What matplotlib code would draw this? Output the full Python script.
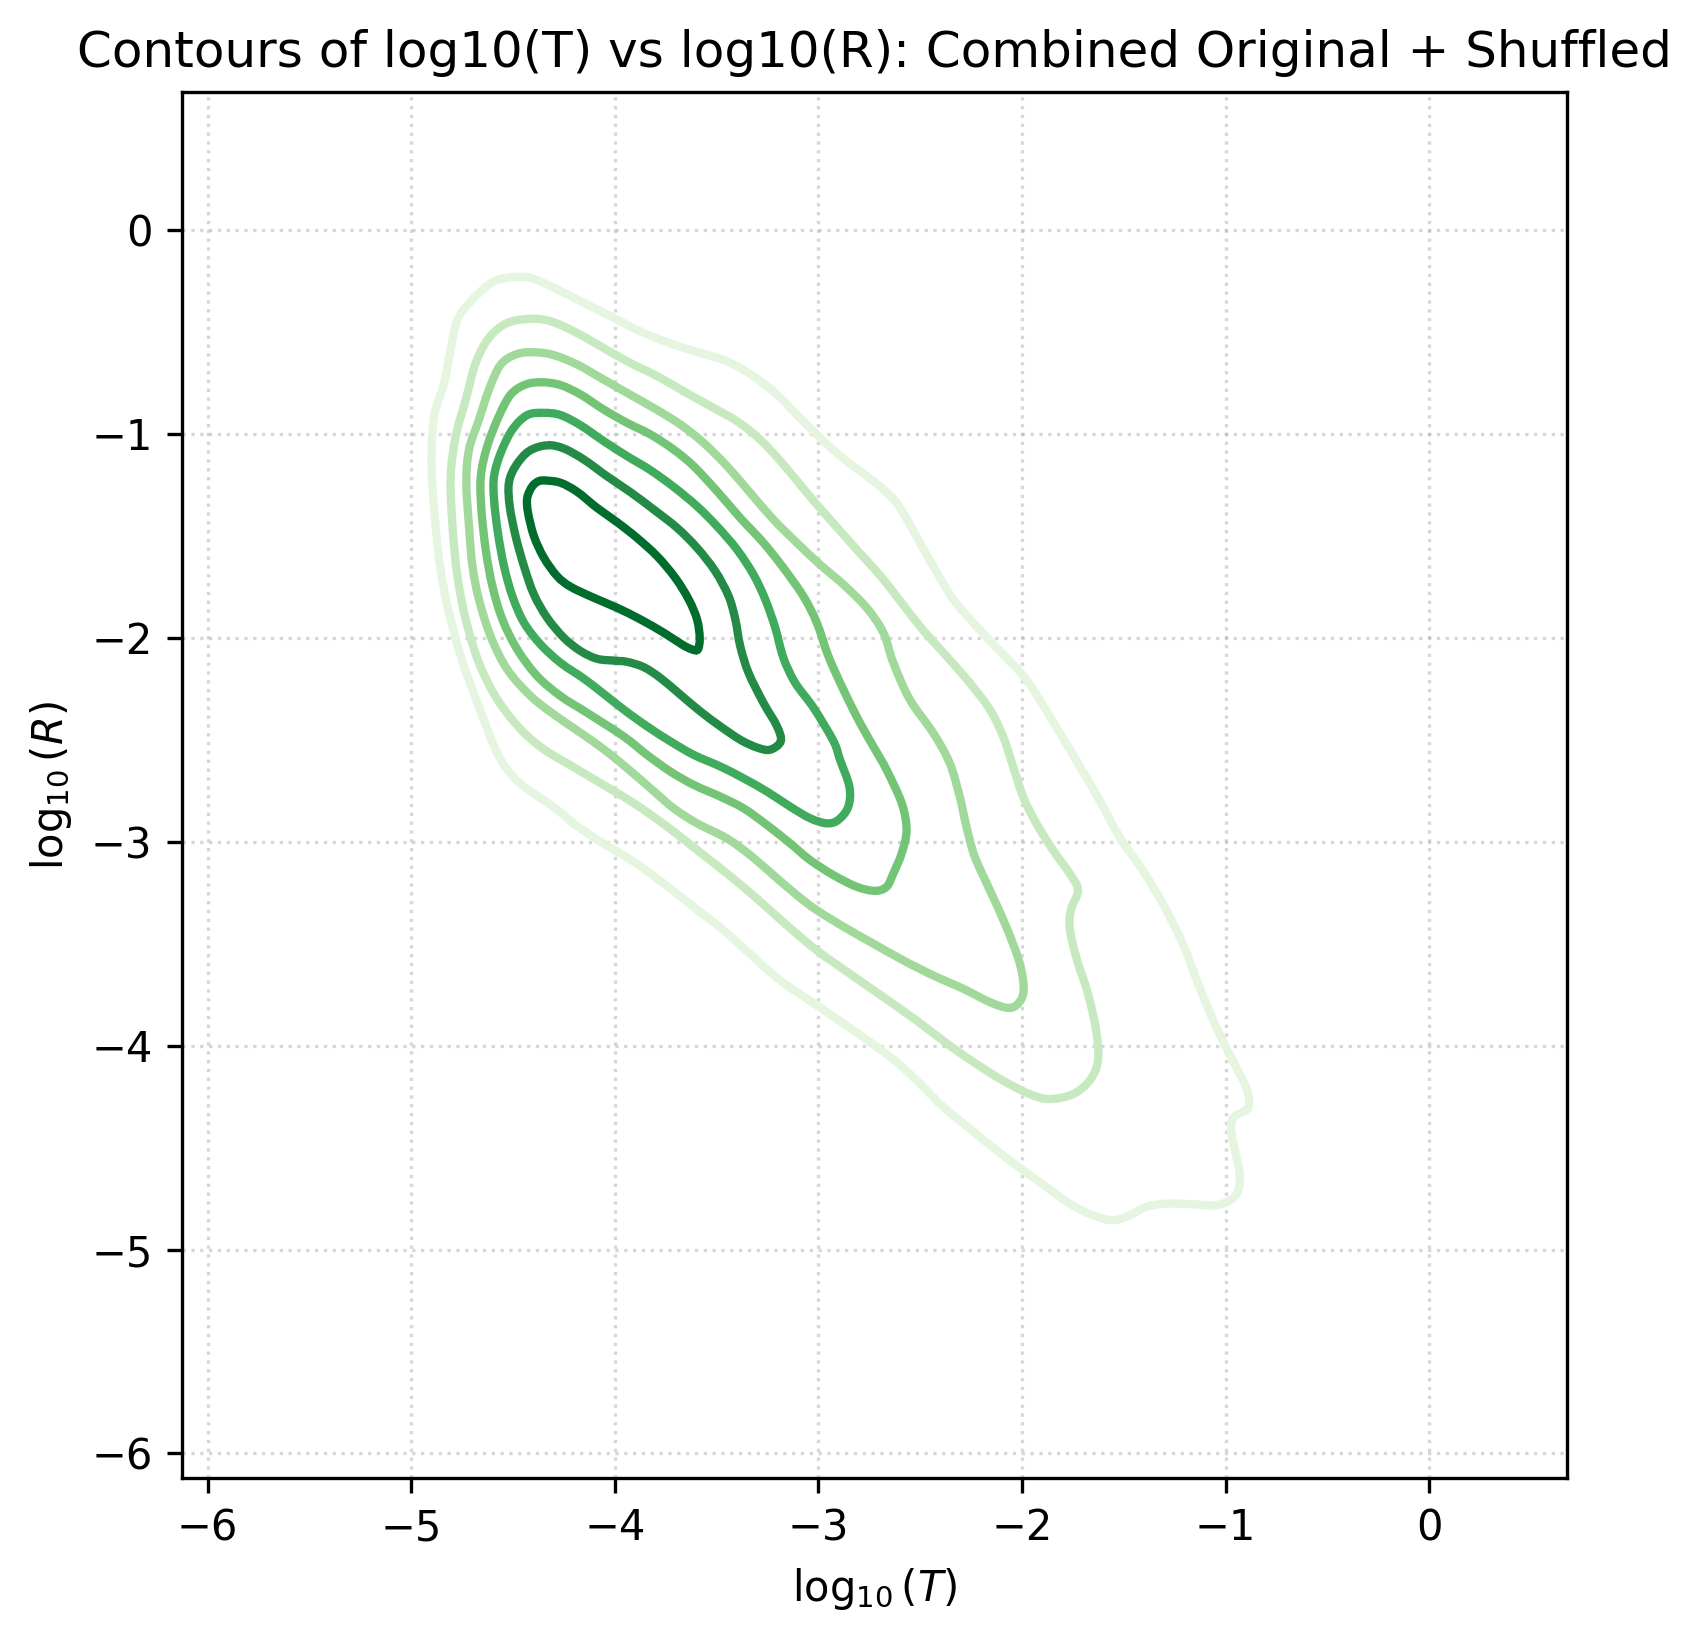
import numpy as np
import matplotlib
matplotlib.use('Agg')
import matplotlib.pyplot as plt
from matplotlib.path import Path
from matplotlib.patches import PathPatch

# contour lines, each row is (log10 T, log10 R), outermost first
contour_1 = np.array([
    (-4.479, -0.230), (-4.397, -0.240), (-4.283, -0.292), (-4.152, -0.358), (-4.005, -0.431),
    (-3.858, -0.505), (-3.711, -0.562), (-3.580, -0.603), (-3.449, -0.644), (-3.319, -0.717),
    (-3.204, -0.807), (-3.090, -0.922), (-2.975, -1.036), (-2.861, -1.134), (-2.730, -1.232),
    (-2.616, -1.338), (-2.520, -1.500), (-2.430, -1.660), (-2.338, -1.811), (-2.224, -1.943),
    (-2.093, -2.082), (-1.979, -2.205), (-1.864, -2.385), (-1.750, -2.574), (-1.619, -2.797),
    (-1.521, -2.977), (-1.407, -3.141), (-1.309, -3.304), (-1.211, -3.500), (-1.129, -3.712),
    (-1.047, -3.908), (-0.966, -4.072), (-0.900, -4.203), (-0.884, -4.284), (-0.900, -4.317),
    (-0.958, -4.350), (-0.974, -4.407), (-0.958, -4.497), (-0.933, -4.611), (-0.933, -4.693),
    (-0.966, -4.750), (-1.047, -4.783), (-1.162, -4.778), (-1.292, -4.775), (-1.391, -4.791),
    (-1.472, -4.832), (-1.554, -4.856), (-1.652, -4.832), (-1.766, -4.775), (-1.881, -4.693),
    (-1.995, -4.611), (-2.126, -4.513), (-2.257, -4.407), (-2.387, -4.301), (-2.502, -4.186),
    (-2.616, -4.080), (-2.747, -3.982), (-2.877, -3.892), (-3.008, -3.802), (-3.188, -3.680),
    (-3.319, -3.566), (-3.466, -3.434), (-3.613, -3.320), (-3.760, -3.205), (-3.907, -3.098),
    (-4.070, -3.000), (-4.190, -2.920), (-4.300, -2.830), (-4.390, -2.770), (-4.470, -2.710),
    (-4.540, -2.630), (-4.593, -2.531), (-4.675, -2.319), (-4.757, -2.090), (-4.822, -1.845),
    (-4.863, -1.616), (-4.887, -1.371), (-4.900, -1.142), (-4.887, -0.913), (-4.838, -0.750),
    (-4.806, -0.587), (-4.773, -0.440), (-4.699, -0.341), (-4.593, -0.252),
])
contour_2 = np.array([
    (-4.413, -0.436), (-4.315, -0.448), (-4.201, -0.497), (-4.070, -0.570), (-3.940, -0.644),
    (-3.792, -0.717), (-3.662, -0.791), (-3.531, -0.864), (-3.400, -0.938), (-3.286, -1.028),
    (-3.172, -1.150), (-3.057, -1.289), (-2.943, -1.420), (-2.812, -1.567), (-2.681, -1.714),
    (-2.502, -1.943), (-2.371, -2.090), (-2.257, -2.221), (-2.158, -2.352), (-2.093, -2.484),
    (-2.044, -2.631), (-1.995, -2.779), (-1.930, -2.910), (-1.848, -3.041), (-1.766, -3.156),
    (-1.725, -3.238), (-1.758, -3.328), (-1.766, -3.418), (-1.734, -3.566), (-1.676, -3.746),
    (-1.636, -3.926), (-1.627, -4.074), (-1.668, -4.172), (-1.750, -4.238), (-1.864, -4.262),
    (-1.962, -4.238), (-2.093, -4.172), (-2.224, -4.090), (-2.355, -4.000), (-2.518, -3.877),
    (-2.681, -3.762), (-2.845, -3.648), (-3.008, -3.533), (-3.155, -3.410), (-3.302, -3.279),
    (-3.449, -3.156), (-3.596, -3.041), (-3.743, -2.926), (-3.907, -2.811), (-4.070, -2.713),
    (-4.210, -2.630), (-4.348, -2.547), (-4.462, -2.449), (-4.577, -2.302), (-4.667, -2.123),
    (-4.732, -1.910), (-4.773, -1.698), (-4.797, -1.453), (-4.806, -1.208), (-4.781, -1.011),
    (-4.732, -0.832), (-4.683, -0.652), (-4.618, -0.529), (-4.528, -0.456),
])
contour_3 = np.array([
    (-4.389, -0.600), (-4.299, -0.614), (-4.185, -0.660), (-4.070, -0.725), (-3.940, -0.799),
    (-3.809, -0.873), (-3.678, -0.954), (-3.564, -1.044), (-3.449, -1.158), (-3.335, -1.289),
    (-3.221, -1.420), (-3.106, -1.534), (-2.992, -1.641), (-2.877, -1.739), (-2.763, -1.853),
    (-2.681, -1.975), (-2.632, -2.123), (-2.551, -2.303), (-2.436, -2.467), (-2.355, -2.615),
    (-2.306, -2.779), (-2.273, -2.926), (-2.232, -3.074), (-2.158, -3.238), (-2.077, -3.418),
    (-2.011, -3.598), (-1.992, -3.730), (-2.020, -3.795), (-2.069, -3.815), (-2.158, -3.787),
    (-2.289, -3.721), (-2.436, -3.656), (-2.583, -3.582), (-2.730, -3.500), (-2.861, -3.426),
    (-3.008, -3.336), (-3.106, -3.262), (-3.221, -3.164), (-3.335, -3.066), (-3.449, -2.984),
    (-3.596, -2.910), (-3.711, -2.836), (-3.825, -2.738), (-3.940, -2.639), (-4.054, -2.547),
    (-4.168, -2.466), (-4.299, -2.376), (-4.413, -2.286), (-4.528, -2.155), (-4.610, -1.992),
    (-4.667, -1.812), (-4.699, -1.649), (-4.716, -1.453), (-4.729, -1.240), (-4.716, -1.077),
    (-4.667, -0.930), (-4.618, -0.783), (-4.560, -0.660), (-4.479, -0.608),
])
contour_4 = np.array([
    (-4.356, -0.747), (-4.266, -0.761), (-4.168, -0.807), (-4.054, -0.881), (-3.940, -0.946),
    (-3.825, -1.003), (-3.711, -1.077), (-3.613, -1.158), (-3.498, -1.281), (-3.384, -1.412),
    (-3.270, -1.534), (-3.172, -1.657), (-3.074, -1.796), (-3.008, -1.926), (-2.951, -2.090),
    (-2.878, -2.253), (-2.796, -2.417), (-2.722, -2.547), (-2.665, -2.648), (-2.591, -2.811),
    (-2.567, -2.943), (-2.591, -3.057), (-2.632, -3.156), (-2.665, -3.221), (-2.722, -3.241),
    (-2.812, -3.221), (-2.926, -3.164), (-3.041, -3.090), (-3.139, -3.008), (-3.253, -2.918),
    (-3.368, -2.836), (-3.482, -2.779), (-3.613, -2.721), (-3.727, -2.656), (-3.842, -2.574),
    (-3.956, -2.484), (-4.136, -2.368), (-4.266, -2.286), (-4.381, -2.188), (-4.479, -2.057),
    (-4.552, -1.910), (-4.601, -1.747), (-4.634, -1.567), (-4.655, -1.371), (-4.658, -1.208),
    (-4.626, -1.060), (-4.569, -0.913), (-4.511, -0.807), (-4.438, -0.758),
])
contour_5 = np.array([
    (-4.348, -0.897), (-4.266, -0.908), (-4.168, -0.958), (-4.054, -1.036), (-3.940, -1.109),
    (-3.825, -1.178), (-3.711, -1.260), (-3.596, -1.355), (-3.498, -1.453), (-3.400, -1.567),
    (-3.319, -1.690), (-3.261, -1.812), (-3.212, -1.951), (-3.172, -2.098), (-3.114, -2.221),
    (-3.024, -2.343), (-2.926, -2.507), (-2.894, -2.598), (-2.848, -2.730), (-2.853, -2.828),
    (-2.902, -2.893), (-2.959, -2.910), (-3.041, -2.885), (-3.139, -2.828), (-3.253, -2.754),
    (-3.368, -2.689), (-3.482, -2.631), (-3.613, -2.574), (-3.727, -2.508), (-3.842, -2.434),
    (-3.956, -2.352), (-4.136, -2.212), (-4.266, -2.123), (-4.364, -2.033), (-4.446, -1.926),
    (-4.503, -1.796), (-4.544, -1.649), (-4.574, -1.485), (-4.593, -1.322), (-4.593, -1.208),
    (-4.560, -1.093), (-4.503, -0.979), (-4.430, -0.908),
])
contour_6 = np.array([
    (-4.332, -1.056), (-4.250, -1.072), (-4.152, -1.126), (-4.038, -1.208), (-3.923, -1.286),
    (-3.809, -1.371), (-3.694, -1.461), (-3.596, -1.559), (-3.507, -1.673), (-3.441, -1.796),
    (-3.408, -1.910), (-3.384, -2.041), (-3.343, -2.172), (-3.270, -2.319), (-3.204, -2.433),
    (-3.185, -2.507), (-3.237, -2.549), (-3.302, -2.538), (-3.384, -2.500), (-3.482, -2.434),
    (-3.580, -2.361), (-3.678, -2.279), (-3.776, -2.197), (-3.858, -2.144), (-3.940, -2.118),
    (-4.005, -2.112), (-4.087, -2.103), (-4.168, -2.065), (-4.250, -2.000), (-4.332, -1.902),
    (-4.397, -1.788), (-4.446, -1.649), (-4.487, -1.502), (-4.516, -1.355), (-4.520, -1.240),
    (-4.487, -1.158), (-4.422, -1.085),
])
contour_7 = np.array([
    (-4.337, -1.229), (-4.266, -1.240), (-4.185, -1.284), (-4.087, -1.363), (-3.989, -1.433),
    (-3.891, -1.510), (-3.792, -1.600), (-3.703, -1.706), (-3.637, -1.812), (-3.596, -1.910),
    (-3.583, -2.000), (-3.592, -2.057), (-3.621, -2.057), (-3.670, -2.033), (-3.760, -1.975),
    (-3.874, -1.910), (-3.989, -1.853), (-4.103, -1.804), (-4.217, -1.750), (-4.283, -1.698),
    (-4.348, -1.608), (-4.397, -1.502), (-4.426, -1.387), (-4.430, -1.314), (-4.405, -1.257),
    (-4.373, -1.232),
])

contours = [contour_1, contour_2, contour_3, contour_4, contour_5, contour_6, contour_7]
colors = ['#e5f5e0', '#c7e9c0', '#a1d99b', '#74c476', '#41ab5d', '#238b45', '#006d2c']
ticks = [-6, -5, -4, -3, -2, -1, 0]


def smooth_loop(pts):
    # closed bezier path through the points, so the line has no visible corners
    prev_pts = np.roll(pts, 1, axis=0)
    next_pts = np.roll(pts, -1, axis=0)
    next2_pts = np.roll(pts, -2, axis=0)
    c1 = pts + (next_pts - prev_pts) / 6
    c2 = next_pts - (next2_pts - pts) / 6
    verts = [pts[0]]
    codes = [Path.MOVETO]
    for a, b, p in zip(c1, c2, next_pts):
        verts += [a, b, p]
        codes += [Path.CURVE4] * 3
    return Path(np.array(verts), codes)


fig = plt.figure(figsize=(1701 / 300, 1638 / 300), dpi=300)
ax = fig.add_axes([181.7 / 1701, 159.7 / 1638, 1385.6 / 1701, 1386 / 1638])

for c, col in zip(contours, colors):
    ax.add_patch(PathPatch(smooth_loop(c), fill=False, edgecolor=col, lw=2, zorder=2))

ax.set_xlim(-6.127, 0.678)
ax.set_ylim(-6.122, 0.675)
ax.set_xticks(ticks)
ax.set_yticks(ticks)
ax.grid(True, linestyle=':', alpha=0.5)
ax.set_axisbelow(True)
ax.set_xlabel(r'$\log_{10}(T)$')
ax.set_ylabel(r'$\log_{10}(R)$')
ax.set_title('Contours of log10(T) vs log10(R): Combined Original + Shuffled', fontsize=12)

fig.savefig('out.png', dpi=300)
